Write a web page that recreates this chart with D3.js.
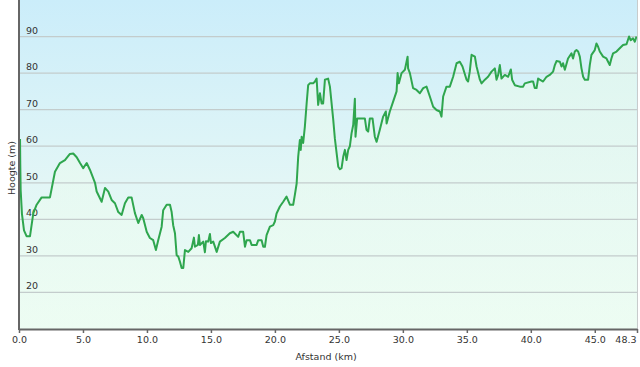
<!DOCTYPE html>
<html>
<head>
<meta charset="utf-8">
<script src="https://cdn.jsdelivr.net/npm/d3@7/dist/d3.min.js"></script>
<style>
html,body{margin:0;padding:0;background:#fff;}
svg{display:block;}
text{font-family:"DejaVu Sans",Verdana,sans-serif;fill:#333;}
</style>
</head>
<body>
<svg id="chart" width="640" height="367"></svg>
<script>
const distanceKm = [0.08,0.10,0.13,0.23,0.39,0.59,0.86,1.12,1.38,1.77,2.42,2.81,3.20,3.59,3.98,4.24,4.51,4.77,5.02,5.29,5.55,5.94,6.07,6.46,6.72,6.98,7.24,7.50,7.76,8.02,8.28,8.54,8.80,9.06,9.32,9.59,9.71,9.98,10.23,10.49,10.70,10.88,11.15,11.27,11.54,11.80,11.93,12.05,12.19,12.32,12.45,12.58,12.71,12.84,12.97,13.23,13.49,13.67,13.75,13.98,14.06,14.14,14.40,14.53,14.61,14.79,14.92,15.00,15.18,15.45,15.70,16.09,16.48,16.74,17.13,17.27,17.52,17.66,17.79,18.05,18.18,18.57,18.70,18.96,19.09,19.22,19.35,19.61,19.87,20.00,20.13,20.39,20.65,20.91,21.17,21.43,21.56,21.70,21.82,21.95,22.02,22.09,22.21,22.34,22.48,22.60,22.73,22.99,23.13,23.26,23.38,23.52,23.65,23.77,23.91,24.16,24.30,24.55,24.69,24.95,25.08,25.21,25.34,25.47,25.60,25.73,25.86,25.99,26.12,26.25,26.30,26.43,26.77,27.03,27.16,27.29,27.42,27.63,27.81,27.95,28.20,28.46,28.67,28.73,28.98,29.24,29.51,29.59,29.69,29.90,30.16,30.37,30.41,30.55,30.80,31.07,31.33,31.59,31.85,32.11,32.37,32.63,32.89,33.02,33.15,33.41,33.67,33.93,34.20,34.45,34.66,34.98,35.10,35.23,35.37,35.63,35.76,36.02,36.15,36.41,36.66,36.93,37.19,37.32,37.45,37.58,37.71,37.97,38.23,38.44,38.54,38.75,39.14,39.40,39.53,40.05,40.18,40.31,40.45,40.57,40.70,40.96,41.23,41.48,41.74,41.88,42.01,42.27,42.40,42.52,42.66,42.91,43.18,43.30,43.44,43.57,43.70,43.83,43.96,44.09,44.22,44.48,44.61,44.74,45.00,45.13,45.26,45.39,45.65,45.91,46.04,46.17,46.30,46.43,46.70,46.95,47.21,47.48,47.68,47.81,47.99,48.13,48.26];
const elevationM = [62,55,48,41.5,37,35.4,35.4,41.7,44,46,46,53,55.4,56.2,57.9,58,57,55.4,54,55.4,53.5,50,47.6,44.8,48.6,47.6,45.3,44.4,42,41.2,44.4,46,46,41.7,39,41.2,40.3,36.6,34.9,34.3,31.6,34.3,38,42.5,44,44,42,38.4,36.2,30.2,29.8,28.4,26.7,26.7,31.6,31.1,32.1,35,32.5,33,35.7,33,33.9,31,34,33.9,36,33.5,33.9,31.1,33.9,34.9,36.2,36.6,35.2,36.6,36.6,32.5,34.3,34.3,33,33,34.3,34.3,32.5,32.5,35.7,38,38.4,39.4,41.6,43.5,44.8,46.2,44,44,46.7,49.8,57.1,61.7,59,62.6,60.9,65.3,71.7,76.7,77.2,77.2,77.7,78.5,71.3,74.5,71.7,71.7,78.2,78.5,76.3,67.6,62,54.4,53.7,54,57.1,59,56.2,59,60,63.5,65.8,73,62.6,67.6,67.6,67.6,64.5,64,67.6,67.6,62.6,61.2,64.5,68.1,69.5,66.2,69.5,72.2,75,80,77.2,80,80.9,84.5,81.3,80,75.9,75.4,74.5,75.9,76.3,73.6,70.8,69.9,69.5,68.1,73.6,76.3,76.3,79,82.7,83.1,81.8,78.2,77.7,80.4,85,84.5,81.8,78.2,77.2,78.2,79,80.4,81.3,78.2,79.5,82.2,78.5,79.5,79,81,78.2,76.7,76.3,76.3,77.2,77.7,77.7,75.9,75.9,78.5,78.2,77.7,79,79.5,80.4,82.2,83.3,83.1,81.8,82.7,80.9,84,85.4,84,85.9,86.3,85.9,84.5,81.3,79,78.2,78.2,82.2,85,86.3,88.1,87.2,85.9,84.5,84,83.1,82.2,84,85.4,85.9,86.8,87.7,87.9,90,89,89.5,88.6,90];
const xTicks = [0,5,10,15,20,25,30,35,40,45,48.3];
const xTickLabels = ["0.0","5.0","10.0","15.0","20.0","25.0","30.0","35.0","40.0","45.0","48.3"];
const yTicks = [20,30,40,50,60,70,80,90];
const xTitle = "Afstand  (km)";
const yTitle = "Hoogte (m)";

const svg = d3.select("#chart");
const plotL = 19, plotR = 637, plotT = 0, plotB = 329;
const x = d3.scaleLinear().domain([0, 48.3]).range([plotL, plotR]);
const y = d3.scaleLinear().domain([10, 100]).range([plotB, plotT]);

const defs = svg.append("defs");
const bg = defs.append("linearGradient").attr("id","bg").attr("x1",0).attr("y1",0).attr("x2",0).attr("y2",1);
bg.append("stop").attr("offset","0%").attr("stop-color","#cbedfa");
bg.append("stop").attr("offset","55%").attr("stop-color","#e2f6f6");
bg.append("stop").attr("offset","100%").attr("stop-color","#ebfcf2");
const ag = defs.append("linearGradient").attr("id","ag").attr("x1",0).attr("y1",0).attr("x2",0).attr("y2",1);
ag.append("stop").attr("offset","0%").attr("stop-color","#e4f8ec").attr("stop-opacity",0.7);
ag.append("stop").attr("offset","100%").attr("stop-color","#effdf3").attr("stop-opacity",0.5);

svg.append("rect").attr("x",plotL).attr("y",plotT).attr("width",plotR-plotL).attr("height",plotB-plotT).attr("fill","url(#bg)");

const pts = distanceKm.map((d,i)=>[d, elevationM[i]]);
svg.append("path").datum(pts)
  .attr("fill","url(#ag)")
  .attr("d", d3.area().x(d=>x(d[0])).y0(y(10)).y1(d=>y(d[1])));

// grid
svg.append("g").selectAll("line").data(yTicks).join("line")
  .attr("x1",plotL).attr("x2",plotR)
  .attr("y1",d=>y(d)).attr("y2",d=>y(d))
  .attr("stroke","#c3cccc").attr("stroke-width",1.2);

svg.append("g").selectAll("text").data(yTicks).join("text")
  .attr("x",26).attr("y",d=>y(d)-3)
  .attr("font-size","9.5px").text(d=>d);

// line
svg.append("path").datum(pts)
  .attr("fill","none").attr("stroke","#2fa64e").attr("stroke-width",2)
  .attr("stroke-linejoin","round")
  .attr("d", d3.line().x(d=>x(d[0])).y(d=>y(d[1])));

// right border
svg.append("line").attr("x1",plotR+0.5).attr("x2",plotR+0.5).attr("y1",plotT).attr("y2",plotB)
  .attr("stroke","#c8cccc").attr("stroke-width",1);

// x axis
const xAxis = d3.axisBottom(x).tickValues(xTicks).tickSize(4).tickSizeOuter(0)
  .tickFormat((d,i)=>xTickLabels[i]);
const gx = svg.append("g").attr("transform",`translate(0,${plotB})`).call(xAxis);
gx.select(".domain").attr("stroke","#666").attr("stroke-width",2);
gx.selectAll(".tick line").attr("stroke","#666").attr("stroke-width",1.5);
gx.selectAll(".tick text").attr("font-size","9.5px").attr("fill","#333").attr("font-family","DejaVu Sans").attr("dy","0.75em").attr("y",7);
gx.selectAll(".tick text").filter((d,i)=>i===xTicks.length-1).attr("text-anchor","end").attr("x",-1);

// y axis line
svg.append("line").attr("x1",plotL).attr("x2",plotL).attr("y1",plotT).attr("y2",plotB+1)
  .attr("stroke","#666").attr("stroke-width",2);

svg.append("text").attr("x",326).attr("y",360).attr("text-anchor","middle")
  .attr("font-size","9.5px").text(xTitle);
svg.append("text").attr("transform","translate(15,168) rotate(-90)").attr("text-anchor","middle")
  .attr("font-size","9.5px").text(yTitle);
</script>
</body>
</html>
